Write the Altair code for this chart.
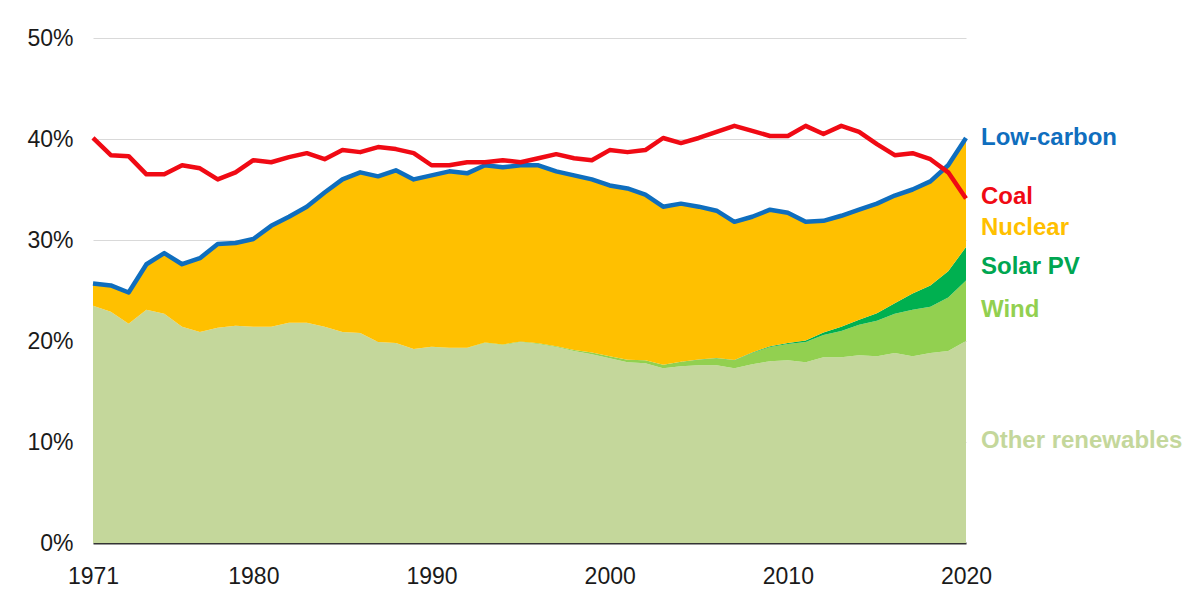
import altair as alt
import pandas as pd

years = list(range(1971, 2021))

other_renewables = [23.5, 22.9, 21.7, 23.1, 22.7, 21.4, 20.9, 21.3, 21.5, 21.4,
                    21.4, 21.8, 21.8, 21.4, 20.9, 20.8, 19.9, 19.8, 19.2, 19.4,
                    19.3, 19.3, 19.8, 19.6, 19.9, 19.7, 19.4, 19.0, 18.7, 18.3,
                    17.9, 17.8, 17.3, 17.5, 17.6, 17.6, 17.3, 17.7, 18.0, 18.1,
                    17.9, 18.4, 18.4, 18.6, 18.5, 18.8, 18.5, 18.8, 19.0, 20.0]

wind = [0.0, 0.0, 0.0, 0.0, 0.0, 0.0, 0.0, 0.0, 0.0, 0.0,
        0.0, 0.0, 0.0, 0.0, 0.0, 0.0, 0.0, 0.0, 0.0, 0.03,
        0.03, 0.04, 0.04, 0.05, 0.06, 0.07, 0.09, 0.1, 0.15, 0.2,
        0.25, 0.3, 0.35, 0.45, 0.55, 0.7, 0.8, 1.1, 1.4, 1.6,
        2.0, 2.2, 2.6, 3.0, 3.5, 3.9, 4.6, 4.6, 5.3, 6.0]

solar_pv = [0.0, 0.0, 0.0, 0.0, 0.0, 0.0, 0.0, 0.0, 0.0, 0.0,
            0.0, 0.0, 0.0, 0.0, 0.0, 0.0, 0.0, 0.0, 0.0, 0.0,
            0.0, 0.0, 0.0, 0.0, 0.0, 0.0, 0.0, 0.0, 0.0, 0.0,
            0.0, 0.0, 0.0, 0.0, 0.01, 0.02, 0.03, 0.06, 0.08, 0.1,
            0.15, 0.25, 0.4, 0.5, 0.75, 1.05, 1.6, 2.1, 2.6, 3.3]

nuclear = [2.2, 2.6, 3.1, 4.5, 6.0, 6.2, 7.3, 8.3, 8.2, 8.7,
           10.0, 10.5, 11.5, 13.3, 15.1, 15.9, 16.4, 17.1, 16.8, 17.0,
           17.5, 17.3, 17.6, 17.55, 17.4, 17.6, 17.3, 17.3, 17.2, 16.9,
           17.0, 16.4, 15.7, 15.7, 15.1, 14.6, 13.7, 13.4, 13.5, 12.9,
           11.8, 11.0, 11.0, 10.9, 10.8, 10.6, 10.3, 10.3, 10.5, 10.8]

low_carbon = [25.7, 25.5, 24.8, 27.6, 28.7, 27.6, 28.2, 29.6, 29.7, 30.1,
              31.4, 32.3, 33.3, 34.7, 36.0, 36.7, 36.3, 36.9, 36.0, 36.4,
              36.8, 36.6, 37.4, 37.2, 37.4, 37.4, 36.8, 36.4, 36.0, 35.4,
              35.1, 34.5, 33.3, 33.6, 33.3, 32.9, 31.8, 32.3, 33.0, 32.7,
              31.8, 31.9, 32.4, 33.0, 33.6, 34.4, 35.0, 35.8, 37.4, 40.1]

coal = [40.1, 38.4, 38.3, 36.5, 36.5, 37.4, 37.1, 36.0, 36.7, 37.9,
        37.7, 38.2, 38.6, 38.0, 38.9, 38.7, 39.2, 39.0, 38.6, 37.4,
        37.4, 37.7, 37.7, 37.9, 37.7, 38.1, 38.5, 38.1, 37.9, 38.9,
        38.7, 38.9, 40.1, 39.6, 40.1, 40.7, 41.3, 40.8, 40.3, 40.3,
        41.3, 40.5, 41.3, 40.7, 39.5, 38.4, 38.6, 38.0, 36.7, 34.1]

area_series = ["Other renewables", "Wind", "Solar PV", "Nuclear"]
area_values = [other_renewables, wind, solar_pv, nuclear]
area_colors = ["#C4D79B", "#92D050", "#00B050", "#FFC000"]

label_texts = ["Low-carbon", "Coal", "Nuclear", "Solar PV", "Wind", "Other renewables"]
label_colors = ["#0F6EBE", "#F00A14", "#FFC000", "#00A651", "#92D050", "#C4D79B"]
label_y = [40.1, 34.3, 31.2, 27.3, 23.1, 10.1]

rows = []
for i, (name, vals) in enumerate(zip(area_series, area_values)):
    for yr, v in zip(years, vals):
        rows.append({"year": yr, "value": v, "series": name, "ord": i})
df_area = pd.DataFrame(rows)

df_lines = pd.DataFrame({"year": years, "low_carbon": low_carbon, "coal": coal})

df_labels = pd.DataFrame({
    "year": [2020] * len(label_texts),
    "y": label_y,
    "label": label_texts,
    "color": label_colors,
})

FONT = "Liberation Sans"

x_axis = alt.Axis(values=[1971, 1980, 1990, 2000, 2010, 2020], format="d",
                  title=None, grid=False, ticks=False, domain=True,
                  domainColor="#333333", domainWidth=2, labelPadding=22,
                  labelFontSize=23, labelFont=FONT, labelColor="#1a1a1a",
                  labelFlush=False)
y_axis = alt.Axis(values=[0, 10, 20, 30, 40, 50], title=None, grid=True,
                  gridColor="#D9D9D9", gridWidth=1, ticks=False, domain=False,
                  labelPadding=20, labelFontSize=23, labelFont=FONT,
                  labelColor="#1a1a1a", labelExpr="datum.value + '%'")

x_enc = alt.X("year:Q", scale=alt.Scale(domain=[1971, 2020], nice=False, zero=False), axis=x_axis)

areas = alt.Chart(df_area).mark_area(interpolate="linear").encode(
    x=x_enc,
    y=alt.Y("value:Q", stack="zero", scale=alt.Scale(domain=[0, 50], nice=False), axis=y_axis),
    color=alt.Color("series:N", scale=alt.Scale(domain=area_series, range=area_colors), legend=None),
    order=alt.Order("ord:Q", sort="ascending"),
)

blue_line = alt.Chart(df_lines).mark_line(color="#0F6EBE", strokeWidth=4.5, strokeJoin="round").encode(
    x=x_enc,
    y=alt.Y("low_carbon:Q", axis=y_axis),
)

red_line = alt.Chart(df_lines).mark_line(color="#F00A14", strokeWidth=4.5, strokeJoin="round").encode(
    x=x_enc,
    y=alt.Y("coal:Q", axis=y_axis),
)

labels = alt.Chart(df_labels).mark_text(align="left", baseline="middle", dx=15,
                                        fontSize=24, fontWeight="bold", font=FONT).encode(
    x=x_enc,
    y=alt.Y("y:Q", axis=y_axis),
    text="label:N",
    color=alt.Color("color:N", scale=None, legend=None),
)

chart = alt.layer(areas, blue_line, red_line, labels).properties(
    width=873, height=505,
    padding={"left": 18, "top": 19, "right": 0, "bottom": 5},
    background="white",
).configure_view(stroke=None)

chart.save("out.html", embed_options={"renderer": "svg", "actions": False})
